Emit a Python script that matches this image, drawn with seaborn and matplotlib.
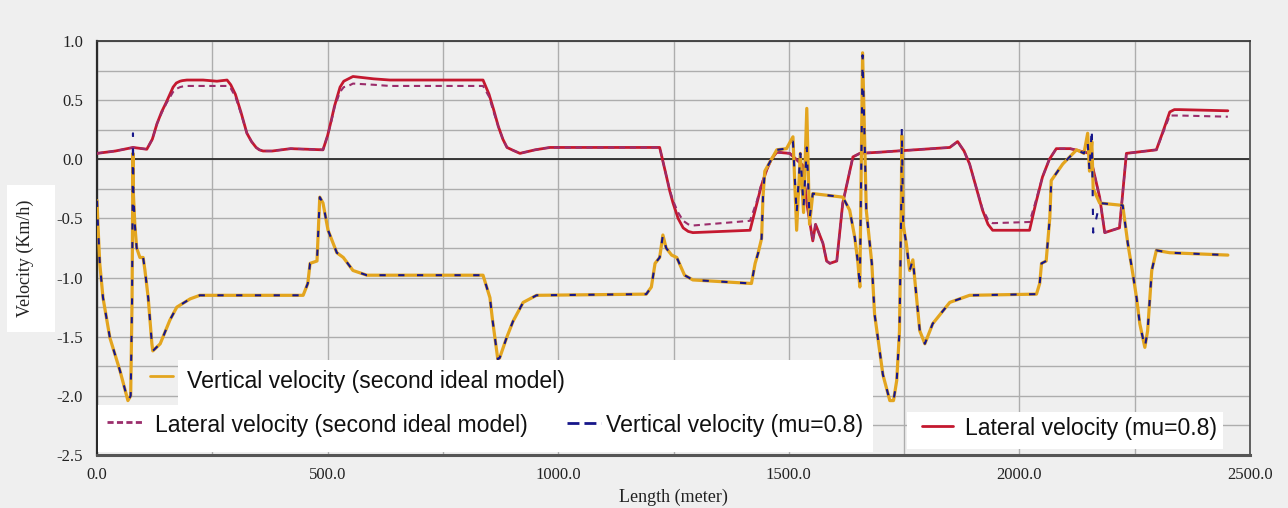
import matplotlib
matplotlib.use("Agg")
import numpy as np
import pandas as pd
import matplotlib.pyplot as plt
from matplotlib.patches import Rectangle
from matplotlib.lines import Line2D
from matplotlib.ticker import MultipleLocator, FormatStrFormatter
import seaborn as sns

# ---------------- data ----------------
# lateral velocity, sampled along the track (m)
lat_x = [0, 40, 78, 108, 120, 130, 140, 150, 165, 172,
         180, 185, 195, 230, 260, 282, 290, 300, 312, 325,
         335, 345, 352, 360, 380, 420, 490, 500, 508, 515,
         527, 535, 545, 555, 600, 635, 837, 850, 860, 870,
         880, 889, 902, 917, 950, 982, 1220, 1235, 1242, 1249,
         1260, 1271, 1282, 1292, 1416, 1431, 1440, 1452, 1462, 1474,
         1502, 1530, 1539, 1552, 1558, 1574, 1582, 1589, 1604, 1617,
         1639, 1654, 1697, 1849, 1866, 1880, 1892, 1905, 1920, 1932,
         1942, 2022, 2035, 2050, 2065, 2080, 2110, 2152, 2174, 2185,
         2217, 2232, 2297, 2310, 2326, 2336, 2347, 2452]
lat_mu = [0.05, 0.07, 0.10, 0.085, 0.17, 0.30, 0.40, 0.48, 0.61, 0.645,
          0.66, 0.665, 0.67, 0.67, 0.66, 0.67, 0.63, 0.55, 0.40, 0.22,
          0.15, 0.10, 0.08, 0.07, 0.07, 0.09, 0.08, 0.20, 0.33, 0.45,
          0.61, 0.66, 0.68, 0.70, 0.68, 0.67, 0.67, 0.55, 0.42, 0.28,
          0.17, 0.10, 0.076, 0.05, 0.08, 0.10, 0.10, -0.15, -0.27, -0.37,
          -0.50, -0.58, -0.61, -0.62, -0.60, -0.37, -0.23, -0.09, 0.00, 0.06,
          0.05, -0.05, -0.37, -0.69, -0.55, -0.71, -0.86, -0.88, -0.86, -0.37,
          0.02, 0.05, 0.06, 0.10, 0.15, 0.07, -0.04, -0.22, -0.43, -0.55,
          -0.60, -0.60, -0.38, -0.15, 0.00, 0.09, 0.09, 0.05, -0.32, -0.62,
          -0.58, 0.05, 0.08, 0.22, 0.40, 0.42, 0.42, 0.41]
lat_ideal = [0.05, 0.07, 0.10, 0.085, 0.17, 0.30, 0.39, 0.47, 0.57, 0.595,
             0.61, 0.615, 0.62, 0.62, 0.62, 0.62, 0.60, 0.53, 0.39, 0.22,
             0.15, 0.10, 0.08, 0.07, 0.07, 0.09, 0.08, 0.20, 0.32, 0.44,
             0.57, 0.61, 0.62, 0.64, 0.63, 0.62, 0.62, 0.53, 0.40, 0.28,
             0.17, 0.10, 0.076, 0.05, 0.08, 0.10, 0.10, -0.15, -0.26, -0.35,
             -0.45, -0.52, -0.55, -0.56, -0.52, -0.35, -0.22, -0.09, 0.00, 0.06,
             0.05, -0.05, -0.37, -0.69, -0.55, -0.71, -0.86, -0.88, -0.86, -0.37,
             0.02, 0.05, 0.06, 0.10, 0.15, 0.07, -0.04, -0.22, -0.42, -0.51,
             -0.54, -0.53, -0.36, -0.15, 0.00, 0.09, 0.09, 0.05, -0.32, -0.62,
             -0.58, 0.05, 0.08, 0.21, 0.37, 0.37, 0.37, 0.36]

# vertical velocity, sampled along the track (m)
vert_x = [0, 2, 6, 13, 28, 50, 67, 73, 76, 78, 79, 82, 86, 93, 100, 104, 111, 119,
          121, 137, 158, 173, 202, 223, 447, 457, 462, 477, 483, 490, 501, 520, 534,
          555, 585, 837, 852, 857, 869, 873, 888, 902, 924, 953, 1191, 1202, 1210,
          1220, 1227, 1234, 1246, 1257, 1274, 1292, 1419, 1427, 1433, 1441, 1444,
          1448, 1474, 1495, 1509, 1517, 1525, 1532, 1539, 1545, 1552, 1617, 1632,
          1643, 1650, 1654, 1660, 1668, 1680, 1686, 1697, 1704, 1719, 1727, 1734,
          1740, 1744, 1745, 1748, 1755, 1762, 1769, 1777, 1784, 1795, 1812, 1849,
          1892, 2037, 2044, 2048, 2058, 2066, 2069, 2094, 2124, 2140, 2148, 2152,
          2157, 2160, 2174, 2224, 2235, 2246, 2254, 2261, 2272, 2278, 2287, 2297,
          2326, 2452]
vert_ideal = [-0.35, -0.55, -0.88, -1.17, -1.51, -1.79, -2.04, -2.00, -1.20, 0.05,
              -0.30, -0.55, -0.75, -0.83, -0.83, -0.94, -1.17, -1.56, -1.62, -1.56,
              -1.36, -1.25, -1.18, -1.15, -1.15, -1.05, -0.88, -0.86, -0.32, -0.37,
              -0.60, -0.79, -0.83, -0.94, -0.98, -0.98, -1.17, -1.34, -1.69, -1.68,
              -1.51, -1.37, -1.21, -1.15, -1.14, -1.08, -0.88, -0.83, -0.64, -0.75,
              -0.81, -0.83, -0.98, -1.02, -1.05, -0.88, -0.80, -0.67, -0.32, -0.10,
              0.08, 0.09, 0.19, -0.60, 0.05, -0.45, 0.43, -0.55, -0.29, -0.32, -0.43,
              -0.66, -0.88, -1.08, 0.90, -0.43, -0.88, -1.31, -1.62, -1.82, -2.04,
              -2.04, -1.87, -1.45, -0.32, 0.20, -0.55, -0.72, -0.94, -0.85, -1.17,
              -1.45, -1.56, -1.39, -1.21, -1.15, -1.14, -1.05, -0.88, -0.86, -0.49,
              -0.18, -0.04, 0.08, 0.05, 0.22, -0.10, 0.15, -0.25, -0.37, -0.39, -0.71,
              -0.97, -1.17, -1.39, -1.59, -1.45, -0.94, -0.77, -0.79, -0.81]
vert_mu = [-0.35, -0.55, -0.88, -1.17, -1.51, -1.79, -2.04, -2.00, -1.20, 0.22,
           -0.30, -0.55, -0.75, -0.83, -0.83, -0.94, -1.17, -1.56, -1.62, -1.56,
           -1.36, -1.25, -1.18, -1.15, -1.15, -1.05, -0.88, -0.86, -0.32, -0.37,
           -0.60, -0.79, -0.83, -0.94, -0.98, -0.98, -1.17, -1.34, -1.69, -1.68,
           -1.51, -1.37, -1.21, -1.15, -1.14, -1.08, -0.88, -0.83, -0.64, -0.75,
           -0.81, -0.83, -0.98, -1.02, -1.05, -0.88, -0.80, -0.67, -0.32, -0.10,
           0.08, 0.09, 0.15, -0.46, 0.05, -0.40, 0.10, -0.50, -0.29, -0.32, -0.43,
           -0.66, -0.88, -1.08, 0.88, -0.43, -0.88, -1.31, -1.62, -1.82, -2.04,
           -2.04, -1.87, -1.45, -0.32, 0.26, -0.55, -0.72, -0.94, -0.85, -1.17,
           -1.45, -1.56, -1.39, -1.21, -1.15, -1.14, -1.05, -0.88, -0.86, -0.49,
           -0.18, -0.04, 0.08, 0.05, 0.15, -0.10, 0.26, -0.62, -0.37, -0.39, -0.71,
           -0.97, -1.17, -1.39, -1.59, -1.45, -0.94, -0.77, -0.79, -0.81]

series_labels = ["Vertical velocity (second ideal model)",
                 "Lateral velocity (second ideal model)",
                 "Vertical velocity (mu=0.8)",
                 "Lateral velocity (mu=0.8)"]
x_ticks = [0, 500, 1000, 1500, 2000, 2500]
y_ticks = [-2.5, -2.0, -1.5, -1.0, -0.5, 0.0, 0.5, 1.0]

# ---------------- style ----------------
sns.set_theme(style="white")
plt.rcParams["font.family"] = ["Liberation Serif", "DejaVu Serif"]
plt.rcParams["axes.unicode_minus"] = False

BG = "#efefef"
C_VI = "#e3a51f"   # vertical, ideal model
C_LI = "#9b2d6b"   # lateral, ideal model
C_VM = "#16168a"   # vertical, mu=0.8
C_LM = "#c4182f"   # lateral, mu=0.8

W, H = 1288, 508
fig = plt.figure(figsize=(W / 100, H / 100), dpi=100, facecolor=BG)
ax = fig.add_axes([97 / W, 1 - 455 / H, (1250 - 97) / W, (455 - 41) / H])
ax.set_facecolor(BG)

lat = pd.DataFrame({"length": lat_x, "mu": lat_mu, "ideal": lat_ideal})
vert = pd.DataFrame({"length": vert_x, "mu": vert_mu, "ideal": vert_ideal})

# line styles for the plot and the dash used in each legend key
styles = {
    series_labels[3]: dict(color=C_LM, lw=2.0, ls="-"),
    series_labels[1]: dict(color=C_LI, lw=1.5, ls=(0, (3, 2.2))),
    series_labels[0]: dict(color=C_VI, lw=2.3, ls="-"),
    series_labels[2]: dict(color=C_VM, lw=1.5, ls=(0, (3, 6))),
}
key_ls = {
    series_labels[3]: "-",
    series_labels[1]: (0, (2.2, 1.2)),
    series_labels[0]: "-",
    series_labels[2]: (0, (4.3, 1.8)),
}

sns.lineplot(data=lat, x="length", y="mu", ax=ax, estimator=None, sort=False,
             zorder=3, **styles[series_labels[3]])
sns.lineplot(data=lat, x="length", y="ideal", ax=ax, estimator=None, sort=False,
             zorder=4, **styles[series_labels[1]])
sns.lineplot(data=vert, x="length", y="ideal", ax=ax, estimator=None, sort=False,
             zorder=5, **styles[series_labels[0]])
sns.lineplot(data=vert, x="length", y="mu", ax=ax, estimator=None, sort=False,
             zorder=6, **styles[series_labels[2]])

ax.axhline(0, color="#2b2b2b", lw=1.3, zorder=2)

# ---------------- axes ----------------
ax.set_xlim(0, 2500)
ax.set_ylim(-2.5, 1.0)
ax.set_xticks(x_ticks)
ax.set_yticks(y_ticks)
ax.xaxis.set_minor_locator(MultipleLocator(250))
ax.yaxis.set_minor_locator(MultipleLocator(0.25))
ax.xaxis.set_major_formatter(FormatStrFormatter("%.1f"))
ax.yaxis.set_major_formatter(FormatStrFormatter("%.1f"))
ax.grid(True, which="both", color="#adadad", lw=1.0, zorder=1)
ax.set_axisbelow(True)

ax.tick_params(axis="y", which="both", direction="out", length=6, width=1,
               color="#333333", labelsize=12, pad=4, labelcolor="#222222")
ax.tick_params(axis="x", which="both", direction="inout", length=7, width=1,
               color="#333333", labelsize=12, pad=5, labelcolor="#222222")

for side, (col, lw) in {"left": ("#2a2a2a", 1.6), "bottom": ("#555555", 2.2),
                        "top": ("#3a3a3a", 1.3), "right": ("#555555", 1.3)}.items():
    ax.spines[side].set_visible(True)
    ax.spines[side].set_color(col)
    ax.spines[side].set_linewidth(lw)

ax.set_xlabel("Length (meter)", fontsize=13, color="#222222")
ax.xaxis.set_label_coords(0.5, (455 - 497) / 414)
ax.xaxis.label.set_va("center")
ax.set_ylabel("")


def fx(px):
    return px / W


def fy(py):
    return 1 - py / H


# y-axis title on its own white panel
fig.add_artist(Rectangle((fx(7), fy(332)), fx(55) - fx(7), fy(185) - fy(332),
                         transform=fig.transFigure, facecolor="white",
                         edgecolor="none", zorder=5))
fig.text(fx(25), fy(258), "Velocity (Km/h)", rotation=90, ha="center",
         va="center", fontsize=13, color="#222222", zorder=6)

# ---------------- legend ----------------
for (x0, y0, x1, y1) in [(178, 360, 873, 406), (98, 405, 873, 452),
                         (907, 412, 1223, 449)]:
    fig.add_artist(Rectangle((fx(x0), fy(y1)), fx(x1) - fx(x0), fy(y0) - fy(y1),
                             transform=fig.transFigure, facecolor="white",
                             edgecolor="none", zorder=7))

entries = [
    (series_labels[0], 150, 173, 376, 187, 388),
    (series_labels[1], 107, 142, 422, 155, 432),
    (series_labels[2], 567, 601, 423, 606, 432),
    (series_labels[3], 922, 953, 426, 965, 435),
]
for label, hx0, hx1, hy, tx, ty in entries:
    st = styles[label]
    fig.add_artist(Line2D([fx(hx0), fx(hx1)], [fy(hy), fy(hy)],
                          transform=fig.transFigure, color=st["color"],
                          lw=2.0, ls=key_ls[label], zorder=8))
    fig.text(fx(tx), fy(ty), label, ha="left", va="baseline", fontsize=16.6,
             family=["Liberation Sans", "DejaVu Sans"], color="#111111",
             zorder=8)

fig.savefig("out.png", dpi=100, facecolor=BG)
